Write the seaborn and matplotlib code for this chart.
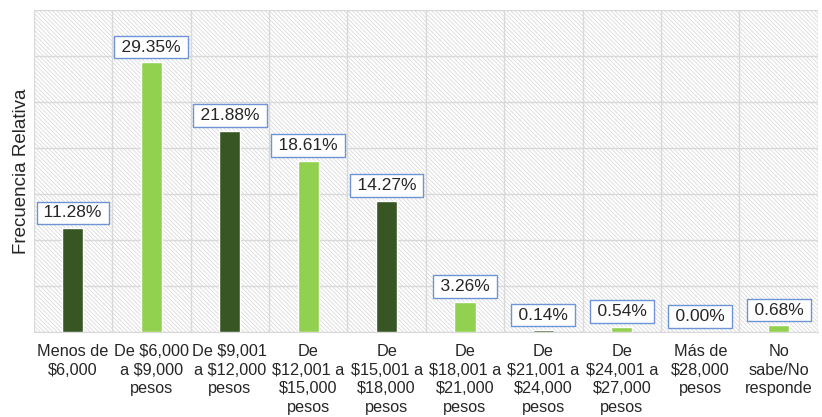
import matplotlib
matplotlib.use("Agg")
import matplotlib.pyplot as plt
import seaborn as sns
import pandas as pd
from matplotlib.patches import Rectangle

categories = ["Menos de\n$6,000", "De $6,000\na $9,000\npesos", "De $9,001\na $12,000\npesos",
              "De\n$12,001 a\n$15,000\npesos", "De\n$15,001 a\n$18,000\npesos",
              "De\n$18,001 a\n$21,000\npesos", "De\n$21,001 a\n$24,000\npesos",
              "De\n$24,001 a\n$27,000\npesos", "Más de\n$28,000\npesos", "No\nsabe/No\nresponde"]
values = [11.28, 29.35, 21.88, 18.61, 14.27, 3.26, 0.14, 0.54, 0.00, 0.68]
dark = "#375623"
light = "#92D050"
colors = [dark if i % 2 == 0 else light for i in range(len(values))]

sns.set_style("white")
plt.rcParams['font.family'] = ['Liberation Sans', 'DejaVu Sans']
plt.rcParams['hatch.color'] = '#DADADA'
plt.rcParams['hatch.linewidth'] = 0.6

df = pd.DataFrame({"cat": categories, "val": values})
fig, ax = plt.subplots(figsize=(8.22, 4.17), dpi=100)
fig.subplots_adjust(left=0.041, right=0.995, top=0.975, bottom=0.205)

sns.barplot(data=df, x="cat", y="val", hue="cat", palette=colors, legend=False,
            width=0.27, ax=ax, zorder=3, saturation=1)

bg = Rectangle((0, 0), 1, 1, transform=ax.transAxes, facecolor='white',
               edgecolor='#DADADA', hatch='\\' * 8, linewidth=0, zorder=0)
ax.add_patch(bg)

ax.set_ylim(0, 35)
ax.set_xlim(-0.5, len(values) - 0.5)
ax.set_yticks(range(0, 36, 5))
ax.set_yticklabels([])
ax.set_xticks([i + 0.5 for i in range(-1, len(values))], minor=True)
ax.grid(True, which='major', axis='y', color='#D9D9D9', linewidth=1, zorder=1)
ax.grid(True, which='minor', axis='x', color='#D9D9D9', linewidth=1, zorder=1)
ax.grid(False, which='major', axis='x')
ax.set_axisbelow(True)
for s in ax.spines.values():
    s.set_visible(False)
ax.spines['bottom'].set_visible(True)
ax.spines['bottom'].set_color('#D9D9D9')
ax.tick_params(axis='both', which='both', length=0)
ax.tick_params(axis='x', labelsize=11.7, pad=9)
for lbl in ax.get_xticklabels():
    lbl.set_linespacing(1.3)
ax.set_xlabel("")
ax.set_ylabel("Frecuencia Relativa", fontsize=13.5, labelpad=-1)

for i, v in enumerate(values):
    ax.annotate(f"\u2009{v:.2f}%\u2009", (i, v), xytext=(0, 5.5), textcoords='offset points',
                ha='center', va='bottom', fontsize=12.5, zorder=5,
                bbox=dict(boxstyle='square,pad=0.22', facecolor='white',
                          edgecolor='#6F94D6', linewidth=1))

fig.savefig("out.png", dpi=100)
